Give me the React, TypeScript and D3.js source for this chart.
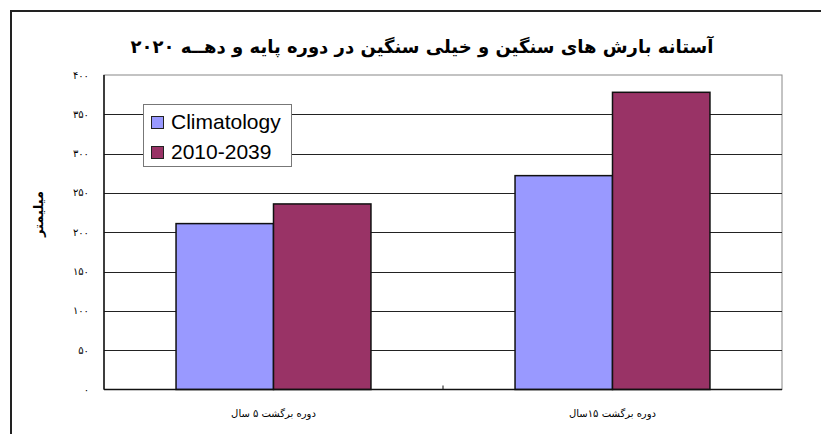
import React, { useEffect, useRef } from 'react';
import * as d3 from 'd3';

// categories (return periods) and the two series, in millimetres
const categories: string[] = ["دوره برگشت ۵ سال", "دوره برگشت ۱۵سال"];
const series_names: string[] = ["Climatology", "2010-2039"];
const climatology: number[] = [211, 272];
const future: number[] = [236, 378];
const y_ticks: number[] = [0, 50, 100, 150, 200, 250, 300, 350, 400];

const title = "آستانه بارش های سنگین و خیلی سنگین  در دوره پایه  و دهــه ۲۰۲۰";
const y_label = "میلیمتر";

const colors = ["#9999ff", "#993366"];

const toPersian = (n: number) => String(n).replace(/\d/g, d => "۰۱۲۳۴۵۶۷۸۹"[+d]);

const width = 821;
const height = 434;
const plot = { left: 104, right: 782, top: 75, bottom: 389.5 };

export default function App() {
    const ref = useRef<SVGSVGElement>(null);

    useEffect(() => {
        const svg = d3.select(ref.current);
        svg.selectAll("*").remove();

        let x_scale = d3.scaleBand()
            .domain(categories)
            .range([plot.left, plot.right])
            .paddingInner(0.425)
            .paddingOuter(0.2125);

        let sub_scale = d3.scaleBand()
            .domain(series_names)
            .range([0, x_scale.bandwidth()]);

        let y_scale = d3.scaleLinear()
            .domain([0, 400])
            .range([plot.bottom, plot.top]);

        // outer chart frame (only left and top visible)
        svg.append("path")
            .attr("d", `M11,${height} L11,11 L${width},11`)
            .attr("fill", "none")
            .attr("stroke", "#222")
            .attr("stroke-width", 2);

        // title
        svg.append("text")
            .attr("x", 422)
            .attr("y", 53)
            .attr("text-anchor", "middle")
            .attr("font-family", "DejaVu Sans")
            .attr("font-weight", "bold")
            .attr("font-size", 18)
            .attr("direction", "rtl")
            .text(title);

        // plot area frame
        svg.append("rect")
            .attr("x", plot.left)
            .attr("y", plot.top)
            .attr("width", plot.right - plot.left)
            .attr("height", plot.bottom - plot.top)
            .attr("fill", "white")
            .attr("stroke", "#888")
            .attr("stroke-width", 1);

        // gridlines
        svg.selectAll(".grid")
            .data(y_ticks.filter(t => t > 0 && t < 400))
            .join("line")
            .attr("x1", plot.left)
            .attr("x2", plot.right)
            .attr("y1", d => Math.round(y_scale(d)) + 0.5)
            .attr("y2", d => Math.round(y_scale(d)) + 0.5)
            .attr("stroke", "#222")
            .attr("stroke-width", 1);

        // bars
        const bar_data: any[] = [];
        categories.forEach((c, i) => {
            bar_data.push({ cat: c, name: series_names[0], value: climatology[i], color: colors[0] });
            bar_data.push({ cat: c, name: series_names[1], value: future[i], color: colors[1] });
        });

        svg.selectAll(".bar")
            .data(bar_data)
            .join("rect")
            .attr("x", d => (x_scale(d.cat) as number) + (sub_scale(d.name) as number))
            .attr("y", d => y_scale(d.value))
            .attr("width", sub_scale.bandwidth())
            .attr("height", d => plot.bottom - y_scale(d.value))
            .attr("fill", d => d.color)
            .attr("stroke", "#111")
            .attr("stroke-width", 1.5);

        // axes lines
        svg.append("line")
            .attr("x1", plot.left).attr("x2", plot.left)
            .attr("y1", plot.top).attr("y2", plot.bottom)
            .attr("stroke", "#111").attr("stroke-width", 1.5);
        svg.append("line")
            .attr("x1", plot.left).attr("x2", plot.right)
            .attr("y1", plot.bottom).attr("y2", plot.bottom)
            .attr("stroke", "#111").attr("stroke-width", 1.5);

        // category separator tick
        svg.append("line")
            .attr("x1", plot.left + (plot.right - plot.left) / 2)
            .attr("x2", plot.left + (plot.right - plot.left) / 2)
            .attr("y1", plot.bottom)
            .attr("y2", plot.bottom - 4)
            .attr("stroke", "#111");

        // y tick labels
        svg.selectAll(".ytick")
            .data(y_ticks)
            .join("text")
            .attr("x", 89)
            .attr("y", d => y_scale(d) + 3.5)
            .attr("text-anchor", "end")
            .attr("font-family", "DejaVu Sans")
            .attr("font-size", 10)
            .text(d => toPersian(d));

        // y axis label
        svg.append("text")
            .attr("transform", `translate(43,214) rotate(-90)`)
            .attr("text-anchor", "middle")
            .attr("font-family", "DejaVu Sans")
            .attr("font-weight", "bold")
            .attr("font-size", 13)
            .text(y_label);

        // category labels
        svg.selectAll(".xlabel")
            .data(categories)
            .join("text")
            .attr("x", d => (x_scale(d) as number) + x_scale.bandwidth() / 2)
            .attr("y", 417)
            .attr("text-anchor", "middle")
            .attr("font-family", "DejaVu Sans")
            .attr("font-size", 10)
            .text(d => d);

        // legend
        const legend = svg.append("g");
        legend.append("rect")
            .attr("x", 143.5).attr("y", 104.5)
            .attr("width", 148).attr("height", 62)
            .attr("fill", "white")
            .attr("stroke", "#777");
        series_names.forEach((name, i) => {
            legend.append("rect")
                .attr("x", 151.5).attr("y", 116.5 + i * 30)
                .attr("width", 12).attr("height", 12)
                .attr("fill", colors[i])
                .attr("stroke", "#222");
            legend.append("text")
                .attr("x", 171)
                .attr("y", 128.5 + i * 30)
                .attr("font-family", "Liberation Sans")
                .attr("font-size", 21)
                .text(name);
        });
    }, []);

    return (
        <svg ref={ref} width={width} height={height}
            style={{ position: "absolute", left: 0, top: 0, background: "white" }} />
    );
}
